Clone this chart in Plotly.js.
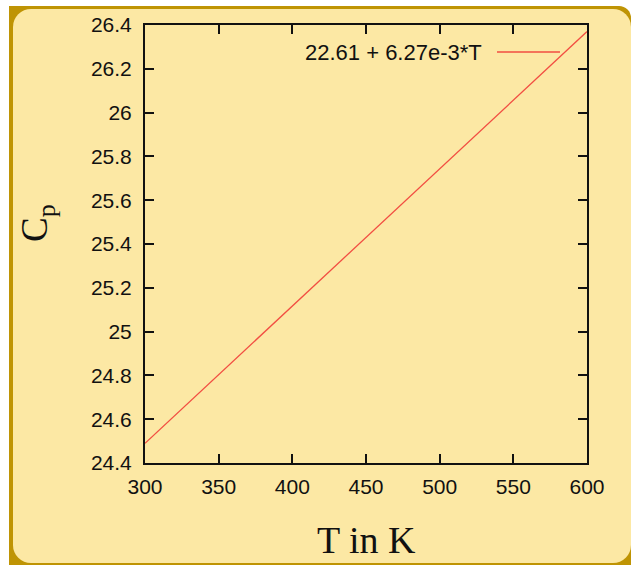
<!DOCTYPE html>
<html>
<head>
<meta charset="utf-8">
<script src="https://cdn.plot.ly/plotly-3.0.1.min.js"></script>
<style>
  html, body { margin: 0; padding: 0; background: #ffffff; }
  #wrap { position: relative; width: 631px; height: 565px; overflow: hidden; }
  #gold { position: absolute; left: 9px; top: 6px; width: 622px; height: 559px; background: #bf9404; border-top-right-radius: 12px; }
  #panel { position: absolute; left: 13px; top: 9px; width: 618px; height: 554px; background: #fce8a4; border-radius: 18px; }
  #chart { position: absolute; left: 0; top: 0; width: 631px; height: 565px; }
</style>
</head>
<body>
<div id="wrap">
  <div id="gold"></div>
  <div id="panel"></div>
  <div id="chart"></div>
</div>
<script>
// Data
const T = [300, 600];
const Cp = [24.49, 26.37];
const seriesName = '22.61 + 6.27e-3*T';
const xTicks = [300, 350, 400, 450, 500, 550, 600];
const yTicks = [24.4, 24.6, 24.8, 25, 25.2, 25.4, 25.6, 25.8, 26, 26.2, 26.4];
const yTickText = ['24.4', '24.6', '24.8', '25', '25.2', '25.4', '25.6', '25.8', '26', '26.2', '26.4'];

const W = 631, H = 565;
const M = { l: 145, r: 44, t: 25, b: 102 };
const pw = W - M.l - M.r, ph = H - M.t - M.b;
const px = x => (x - M.l) / pw;           // pixel -> paper x
const py = y => (H - M.b - y) / ph;       // pixel -> paper y

const lineColor = 'rgb(242,78,66)';
const sans = 'Liberation Sans, Arial, sans-serif';
const serif = 'Liberation Serif, Times New Roman, serif';

const trace = {
  x: T, y: Cp, type: 'scatter', mode: 'lines', name: seriesName,
  line: { color: lineColor, width: 1.3 }, showlegend: false, hoverinfo: 'skip'
};

const axisCommon = {
  showgrid: false, zeroline: false, showline: true, linecolor: '#111', linewidth: 2,
  mirror: 'ticks', ticks: 'inside', ticklen: 9, tickwidth: 2, tickcolor: '#111',
  tickfont: { family: sans, size: 21, color: '#111' }
};

const layout = {
  width: W, height: H,
  margin: M,
  paper_bgcolor: 'rgba(0,0,0,0)',
  plot_bgcolor: 'rgba(0,0,0,0)',
  xaxis: Object.assign({}, axisCommon, {
    range: [300, 600], tickmode: 'array', tickvals: xTicks, ticktext: xTicks.map(String),
    ticklabelstandoff: 4
  }),
  yaxis: Object.assign({}, axisCommon, {
    range: [24.4, 26.4], tickmode: 'array', tickvals: yTicks, ticktext: yTickText,
    ticklabelstandoff: 7
  }),
  annotations: [
    { xref: 'paper', yref: 'paper', x: px(484), y: py(52), xanchor: 'right', yanchor: 'middle',
      text: seriesName, showarrow: false,
      font: { family: sans, size: 22, color: '#111' } },
    { xref: 'paper', yref: 'paper', x: px(366), y: py(540), xanchor: 'center', yanchor: 'middle',
      text: 'T in K', showarrow: false,
      font: { family: serif, size: 38, color: '#111' } },
    { xref: 'paper', yref: 'paper', x: px(37), y: py(223), xanchor: 'center', yanchor: 'middle',
      text: 'C<sub>p</sub>', showarrow: false, textangle: -90,
      font: { family: serif, size: 37, color: '#111' } }
  ],
  shapes: [
    { type: 'line', xref: 'paper', yref: 'paper', x0: px(497), x1: px(560), y0: py(52), y1: py(52),
      line: { color: lineColor, width: 1.3 } }
  ]
};

Plotly.newPlot('chart', [trace], layout, { staticPlot: true, displayModeBar: false });
</script>
</body>
</html>
